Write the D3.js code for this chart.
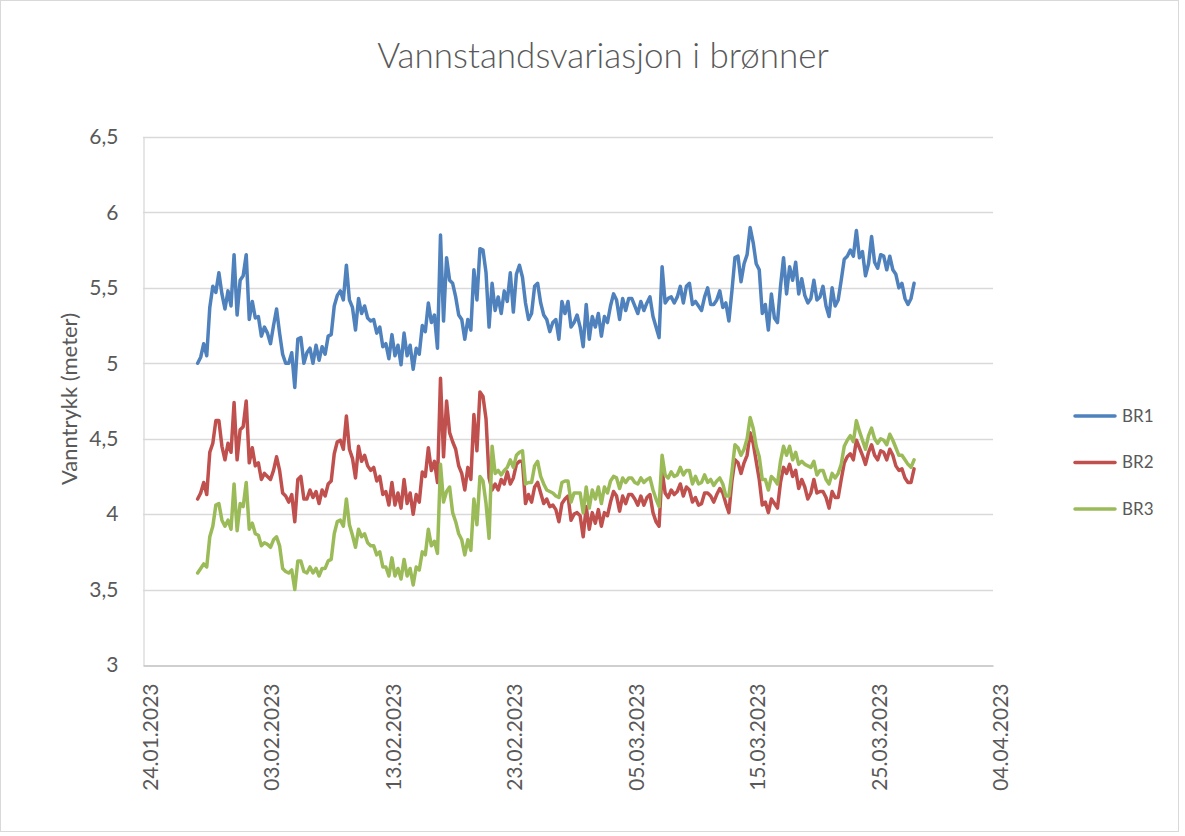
<!DOCTYPE html>
<html>
<head>
<meta charset="utf-8">
<script src="https://cdn.jsdelivr.net/npm/d3@7"></script>
<style>
  html, body { margin: 0; padding: 0; background: #fff; }
  svg text { font-family: Lato, "Open Sans", sans-serif; fill: #595959; }
</style>
</head>
<body>
<svg id="chart" width="1185" height="836"></svg>
<script>
// Water level in wells BR1–BR3, logged every 6 hours from 28.01.2023 12:00
const seriesStart = "2023-01-28T12:00";
const stepHours = 6;

const br1 = [
5.00,5.04,5.13,5.05,5.37,5.51,5.47,5.60,5.46,5.36,5.48,5.38,5.72,5.32,5.55,5.58,5.72,5.29,5.41,5.30,
5.31,5.18,5.24,5.20,5.13,5.25,5.36,5.20,5.06,5.00,5.00,5.07,4.84,5.16,5.17,5.00,5.07,5.10,5.00,5.12,
5.02,5.11,5.06,5.18,5.19,5.38,5.45,5.48,5.42,5.65,5.42,5.37,5.22,5.43,5.33,5.38,5.30,5.28,5.29,5.20,
5.24,5.11,5.13,5.03,5.19,5.05,5.12,4.99,5.20,5.05,5.12,4.96,5.10,5.06,5.25,5.21,5.40,5.27,5.32,5.10,
5.85,5.28,5.70,5.55,5.53,5.44,5.32,5.29,5.16,5.29,5.22,5.62,5.42,5.76,5.75,5.60,5.24,5.53,5.35,5.44,
5.33,5.48,5.41,5.60,5.34,5.59,5.65,5.57,5.40,5.29,5.33,5.51,5.53,5.40,5.32,5.29,5.21,5.27,5.29,5.16,
5.41,5.33,5.41,5.24,5.27,5.32,5.24,5.11,5.39,5.16,5.31,5.24,5.33,5.18,5.31,5.27,5.38,5.46,5.42,5.29,
5.43,5.35,5.43,5.43,5.38,5.33,5.41,5.35,5.40,5.44,5.31,5.24,5.17,5.64,5.40,5.43,5.44,5.40,5.44,5.51,
5.40,5.51,5.53,5.39,5.41,5.38,5.35,5.44,5.50,5.39,5.39,5.42,5.48,5.37,5.40,5.28,5.48,5.70,5.71,5.54,
5.66,5.72,5.90,5.80,5.66,5.62,5.33,5.39,5.22,5.46,5.30,5.27,5.51,5.70,5.46,5.64,5.55,5.67,5.46,5.56,
5.45,5.40,5.43,5.55,5.42,5.44,5.51,5.38,5.31,5.50,5.38,5.42,5.55,5.69,5.71,5.75,5.71,5.88,5.70,5.74,
5.58,5.66,5.84,5.67,5.63,5.72,5.71,5.62,5.71,5.62,5.59,5.50,5.53,5.43,5.39,5.43,5.53
];

const br2 = [
4.10,4.14,4.21,4.13,4.41,4.47,4.62,4.62,4.45,4.36,4.47,4.41,4.74,4.36,4.56,4.58,4.75,4.34,4.44,4.32,
4.34,4.23,4.27,4.25,4.23,4.29,4.38,4.29,4.14,4.12,4.08,4.13,3.95,4.23,4.25,4.10,4.10,4.16,4.11,4.15,
4.07,4.16,4.12,4.20,4.22,4.40,4.48,4.49,4.43,4.65,4.43,4.37,4.24,4.45,4.35,4.39,4.32,4.29,4.31,4.22,
4.25,4.13,4.15,4.06,4.21,4.06,4.14,4.04,4.23,4.07,4.14,4.00,4.13,4.08,4.28,4.25,4.44,4.29,4.35,4.21,
4.90,4.38,4.75,4.54,4.48,4.43,4.32,4.27,4.16,4.31,4.23,4.66,4.42,4.81,4.78,4.63,4.24,4.16,4.20,4.16,
4.23,4.20,4.28,4.20,4.24,4.33,4.35,4.35,4.07,4.13,4.08,4.18,4.21,4.14,4.07,4.10,4.05,4.06,4.03,3.95,
4.07,4.10,4.12,3.96,4.00,4.01,3.99,3.85,4.05,3.90,4.01,3.94,4.03,3.92,4.01,3.99,4.08,4.15,4.12,4.02,
4.12,4.07,4.13,4.13,4.10,4.06,4.12,4.06,4.11,4.13,4.01,3.95,3.92,4.29,4.14,4.11,4.16,4.13,4.15,4.20,
4.12,4.18,4.16,4.08,4.11,4.06,4.07,4.14,4.14,4.12,4.08,4.13,4.17,4.14,4.07,4.01,4.22,4.36,4.34,4.27,
4.34,4.39,4.54,4.47,4.35,4.23,4.06,4.08,4.01,4.10,4.07,4.04,4.21,4.31,4.27,4.33,4.25,4.29,4.17,4.23,
4.18,4.10,4.14,4.23,4.14,4.15,4.15,4.11,4.04,4.15,4.11,4.11,4.23,4.34,4.38,4.40,4.36,4.49,4.44,4.39,
4.33,4.41,4.46,4.39,4.36,4.42,4.41,4.36,4.43,4.39,4.32,4.29,4.30,4.24,4.21,4.21,4.30
];

const br3 = [
3.61,3.64,3.67,3.65,3.85,3.92,4.06,4.07,3.96,3.92,3.96,3.90,4.20,3.89,4.07,4.05,4.21,3.90,3.94,3.87,
3.86,3.79,3.81,3.80,3.78,3.83,3.85,3.79,3.64,3.62,3.61,3.63,3.50,3.69,3.69,3.62,3.61,3.65,3.61,3.64,
3.59,3.64,3.64,3.69,3.70,3.87,3.95,3.96,3.92,4.10,3.93,3.86,3.78,3.90,3.85,3.87,3.81,3.79,3.79,3.73,
3.75,3.65,3.65,3.59,3.71,3.59,3.64,3.57,3.70,3.59,3.64,3.53,3.65,3.63,3.75,3.73,3.90,3.79,3.82,3.74,
4.33,4.08,4.15,4.18,4.01,3.95,3.87,3.83,3.73,3.83,3.76,4.10,3.93,4.25,4.22,4.07,3.84,4.45,4.27,4.29,
4.26,4.29,4.31,4.36,4.31,4.39,4.41,4.42,4.20,4.21,4.21,4.32,4.35,4.25,4.20,4.16,4.15,4.14,4.12,4.11,
4.21,4.22,4.22,4.08,4.14,4.14,4.14,4.01,4.18,4.04,4.16,4.10,4.18,4.07,4.18,4.14,4.22,4.25,4.24,4.17,
4.24,4.21,4.24,4.24,4.21,4.20,4.24,4.21,4.23,4.24,4.16,4.10,4.05,4.39,4.26,4.24,4.28,4.25,4.26,4.31,
4.26,4.29,4.29,4.20,4.25,4.20,4.21,4.26,4.21,4.23,4.19,4.22,4.24,4.20,4.12,4.12,4.28,4.46,4.44,4.39,
4.43,4.50,4.64,4.57,4.45,4.38,4.23,4.23,4.16,4.25,4.23,4.20,4.35,4.45,4.39,4.45,4.36,4.41,4.33,4.35,
4.33,4.32,4.31,4.35,4.26,4.29,4.29,4.23,4.20,4.27,4.24,4.27,4.33,4.45,4.49,4.52,4.48,4.62,4.55,4.49,
4.43,4.52,4.57,4.50,4.47,4.50,4.49,4.46,4.53,4.49,4.44,4.39,4.39,4.36,4.33,4.31,4.36
];

const seriesNames = ["BR1", "BR2", "BR3"];
const seriesColors = ["#4F81BD", "#C0504D", "#9BBB59"];
const xTickLabels = ["24.01.2023", "03.02.2023", "13.02.2023", "23.02.2023",
                     "05.03.2023", "15.03.2023", "25.03.2023", "04.04.2023"];
const yTickValues = [3, 3.5, 4, 4.5, 5, 5.5, 6, 6.5];

const titleText = "Vannstandsvariasjon i brønner";
const yAxisLabel = "Vanntrykk (meter)";

const svg = d3.select("#chart");
const W = 1185, H = 836;
const plot = { left: 143, right: 993, top: 137, bottom: 665 };

const parseTick = d3.utcParse("%d.%m.%Y");
const parseStart = d3.utcParse("%Y-%m-%dT%H:%M");
const t0 = parseStart(seriesStart);
const tickDates = xTickLabels.map(parseTick);

const x = d3.scaleUtc()
  .domain([tickDates[0], tickDates[tickDates.length - 1]])
  .range([plot.left, plot.right]);
const y = d3.scaleLinear()
  .domain([3, 6.5])
  .range([plot.bottom, plot.top]);

// chart frame
svg.append("rect")
  .attr("x", 0.5).attr("y", 0.5)
  .attr("width", W - 7).attr("height", H - 5)
  .attr("fill", "#fff").attr("stroke", "#D9D9D9");

// horizontal gridlines
svg.append("g")
  .selectAll("line")
  .data(yTickValues.filter(v => v > 3))
  .join("line")
  .attr("x1", plot.left).attr("x2", plot.right)
  .attr("y1", d => Math.round(y(d)) + 0.5).attr("y2", d => Math.round(y(d)) + 0.5)
  .attr("stroke", "#D9D9D9").attr("stroke-width", 1.3);

// y axis
const yAxis = svg.append("g")
  .attr("transform", `translate(${plot.left + 0.5},0)`)
  .call(d3.axisLeft(y).tickValues(yTickValues).tickSize(0).tickPadding(25)
        .tickFormat(d => String(d).replace(".", ",")));
yAxis.select(".domain").attr("stroke", "#D9D9D9").attr("stroke-width", 1.3);
yAxis.selectAll("text").attr("font-size", 21).attr("fill", "#595959");

// x axis
const xAxis = svg.append("g")
  .attr("transform", `translate(0,${Math.round(plot.bottom) + 0.5})`)
  .call(d3.axisBottom(x).tickValues(tickDates).tickSize(0)
        .tickFormat(d3.utcFormat("%d.%m.%Y")));
xAxis.select(".domain").attr("stroke", "#BFBFBF").attr("stroke-width", 1.3);
xAxis.selectAll("text")
  .attr("font-size", 21).attr("fill", "#595959")
  .attr("text-anchor", "end")
  .attr("dy", null).attr("y", 0)
  .attr("dominant-baseline", "central")
  .attr("transform", "translate(6,18) rotate(-90)");

// series lines
const allSeries = [br1, br2, br3];
const line = d3.line()
  .x((d, i) => x(d3.utcHour.offset(t0, stepHours * i)))
  .y(d => y(d));

svg.append("g")
  .selectAll("path")
  .data(allSeries)
  .join("path")
  .attr("d", d => line(d))
  .attr("fill", "none")
  .attr("stroke", (d, i) => seriesColors[i])
  .attr("stroke-width", 3.5)
  .attr("stroke-linejoin", "round")
  .attr("stroke-linecap", "round");

// title
svg.append("text")
  .attr("x", 603).attr("y", 68)
  .attr("text-anchor", "middle")
  .attr("font-size", 35)
  .attr("font-weight", 300)
  .text(titleText);

// y axis title
svg.append("text")
  .attr("transform", `translate(77,${(plot.top + plot.bottom) / 2 - 2}) rotate(-90)`)
  .attr("text-anchor", "middle")
  .attr("font-size", 22)
  .text(yAxisLabel);

// legend
const legend = svg.append("g");
const legendRows = legend.selectAll("g")
  .data(seriesNames)
  .join("g")
  .attr("transform", (d, i) => `translate(1075,${416 + i * 46.5})`);
legendRows.append("line")
  .attr("x1", 0).attr("x2", 40)
  .attr("stroke", (d, i) => seriesColors[i])
  .attr("stroke-width", 3.5)
  .attr("stroke-linecap", "round");
legendRows.append("text")
  .attr("x", 47).attr("dy", "0.35em")
  .attr("font-size", 17)
  .text(d => d);
</script>
</body>
</html>
